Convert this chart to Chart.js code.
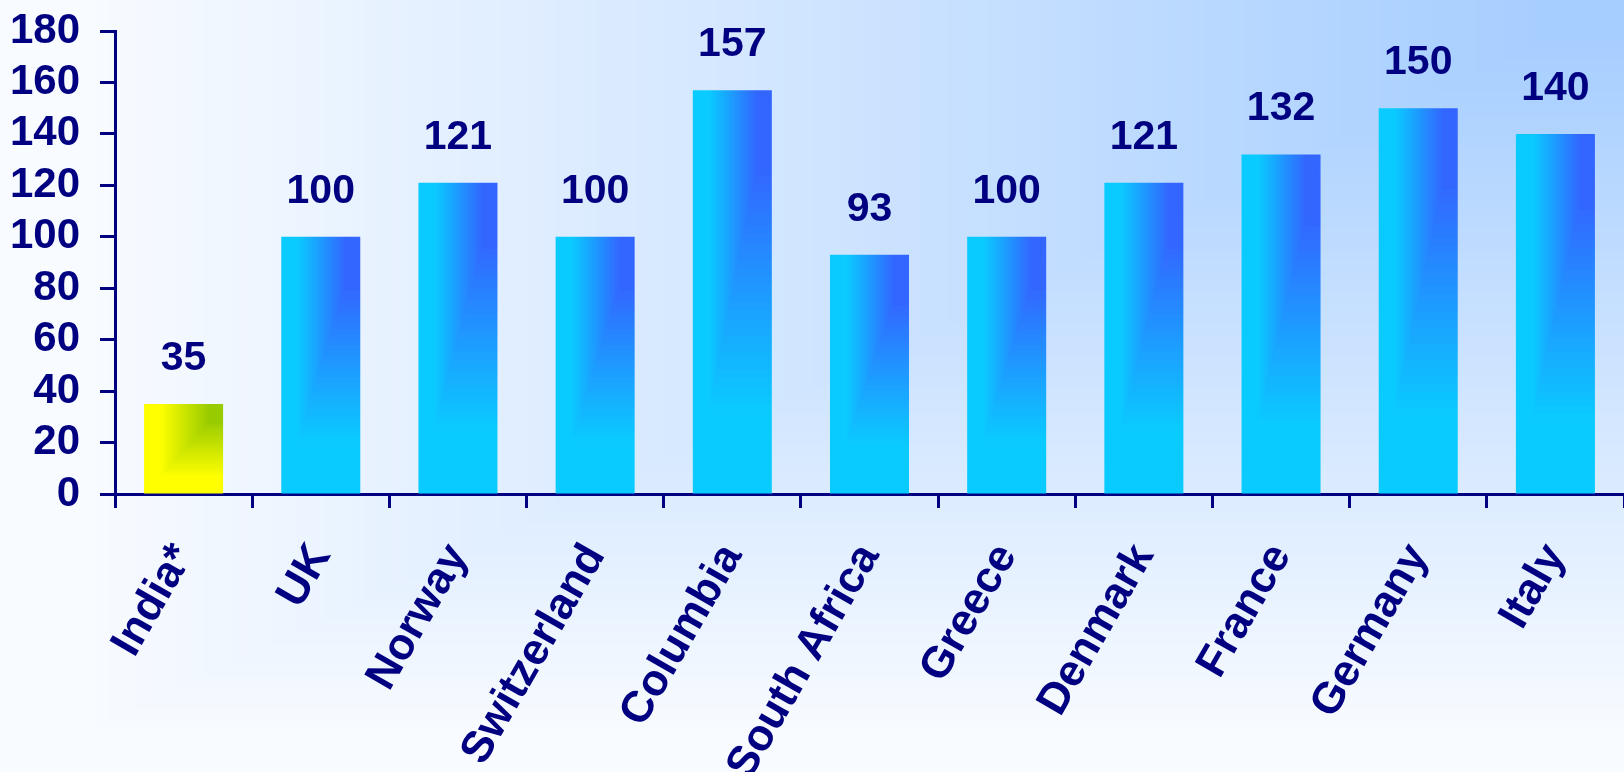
<!DOCTYPE html>
<html>
<head>
<meta charset="utf-8">
<script src="https://cdn.jsdelivr.net/npm/chart.js@4.4.1/dist/chart.umd.min.js"></script>
<style>
  html, body { margin: 0; padding: 0; background: #F8FBFF; }
  #wrap { position: relative; width: 1624px; height: 772px; }
</style>
</head>
<body>
<div id="wrap"><canvas id="c"></canvas></div>
<script>
// ---- data ----
const categories = ['India*', 'UK', 'Norway', 'Switzerland', 'Columbia', 'South Africa', 'Greece', 'Denmark', 'France', 'Germany', 'Italy'];
const values = [35, 100, 121, 100, 157, 93, 100, 121, 132, 150, 140];
const yMin = 0;
const yMax = 180;
const yStep = 20;
const highlighted = ['India*'];

// ---- styles ----
const NAVY = '#000080';
const FONT = '"Liberation Sans", Arial, sans-serif';
const highlightColors = ['#99CC00', '#FFFF00']; // corner colour, far colour
const normalColors = ['#3366FF', '#0ACBFF'];
const bgColors = ['#A6CEFF', '#F8FBFF'];

function hexToRgb(h) {
  const n = parseInt(h.slice(1), 16);
  return [(n >> 16) & 255, (n >> 8) & 255, n & 255];
}
function mix(a, b, s) {
  const A = hexToRgb(a), B = hexToRgb(b);
  return 'rgb(' + A.map((v, i) => Math.round(v + (B[i] - v) * s)).join(',') + ')';
}
// rectangular "from top-right corner" gradient painted onto a 2d context
function paintCorner(g, x0, y0, w, h, c0, c1, lo, hi, steps) {
  for (let i = steps; i >= 1; i--) {
    const t = i / steps;
    let s = (t - lo) / (hi - lo);
    s = Math.max(0, Math.min(1, s));
    g.fillStyle = mix(c0, c1, s);
    const rw = t * w, rh = t * h;
    g.fillRect(x0 + w - rw, y0, Math.ceil(rw) + 1, Math.ceil(rh) + 1);
  }
}
const patternCache = {};
function barFill(context) {
  const chart = context.chart;
  const i = context.dataIndex;
  if (i === undefined) return normalColors[1];
  const xs = chart.scales.x, ys = chart.scales.y;
  if (!xs || !ys || !chart.chartArea) return normalColors[1];
  const cat = categories[i];
  const cols = highlighted.includes(cat) ? highlightColors : normalColors;
  const center = xs.getPixelForValue(i);
  const catW = xs.width / categories.length;
  const bw = catW * 0.8 * 0.72;
  const top = ys.getPixelForValue(values[i]);
  const bottom = ys.getPixelForValue(0);
  const w = Math.max(1, Math.round(bw)), h = Math.max(1, Math.round(bottom - top));
  const left = center - bw / 2;
  const key = [i, w, h, Math.round(left), Math.round(top)].join('_');
  if (patternCache[key]) return patternCache[key];
  const off = document.createElement('canvas');
  off.width = w + 2; off.height = h + 2;
  const g = off.getContext('2d');
  paintCorner(g, 0, 0, w + 2, h + 2, cols[0], cols[1], 0.2, 0.8, 48);
  const ctx = chart.ctx;
  const pat = ctx.createPattern(off, 'no-repeat');
  pat.setTransform(new DOMMatrix().translate(left - 1, top - 1));
  patternCache[key] = pat;
  return pat;
}

const bgPlugin = {
  id: 'bg',
  beforeDraw(chart) {
    const g = chart.ctx;
    g.save();
    paintCorner(g, 0, 0, chart.width, chart.height, bgColors[0], bgColors[1], 0.05, 0.95, 120);
    g.restore();
  }
};

const valueLabels = {
  id: 'valueLabels',
  afterDatasetsDraw(chart) {
    const g = chart.ctx;
    const meta = chart.getDatasetMeta(0);
    g.save();
    g.fillStyle = NAVY;
    g.font = 'bold 41px ' + FONT;
    g.textAlign = 'center';
    g.textBaseline = 'alphabetic';
    meta.data.forEach((bar, i) => {
      g.fillText(String(values[i]), bar.x, bar.y - 34);
    });
    g.restore();
  }
};

new Chart(document.getElementById('c'), {
  type: 'bar',
  data: {
    labels: categories,
    datasets: [{
      data: values,
      backgroundColor: barFill,
      borderWidth: 0,
      categoryPercentage: 0.8,
      barPercentage: 0.72
    }]
  },
  options: {
    responsive: true,
    maintainAspectRatio: false,
    animation: false,
    layout: { padding: { top: 31, right: 0, left: 0, bottom: 0 } },
    plugins: { legend: { display: false }, tooltip: { enabled: false } },
    scales: {
      x: {
        offset: true,
        grid: { offset: true, drawOnChartArea: false, drawTicks: true, tickLength: 14, tickWidth: 3, tickColor: NAVY },
        border: { display: true, color: NAVY, width: 3 },
        ticks: {
          color: NAVY, font: { family: FONT, size: 44, weight: 'bold', lineHeight: 0.6 },
          minRotation: 60, maxRotation: 60, autoSkip: false, padding: 34
        },
        afterFit(scale) { scale.height = 278; scale.paddingLeft = 0; scale.paddingRight = 0; }
      },
      y: {
        min: yMin, max: yMax,
        grid: { drawOnChartArea: false, drawTicks: true, tickLength: 15, tickWidth: 3, tickColor: NAVY },
        border: { display: true, color: NAVY, width: 3 },
        ticks: { stepSize: yStep, autoSkip: false, color: NAVY, font: { family: FONT, size: 42, weight: 'bold' }, padding: 20 },
        afterFit(scale) { scale.width = 115; scale.paddingTop = 0; scale.paddingBottom = 0; }
      }
    }
  },
  plugins: [bgPlugin, valueLabels]
});
</script>
</body>
</html>
